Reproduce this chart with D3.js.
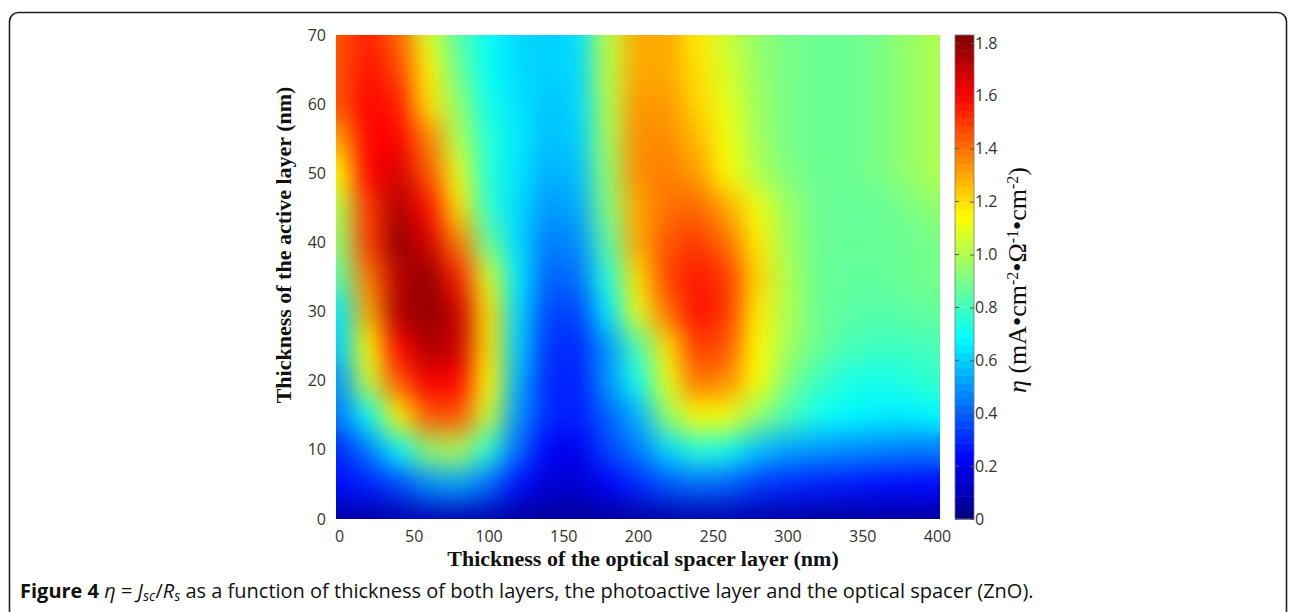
<!DOCTYPE html>
<html>
<head>
<meta charset="utf-8">
<script src="https://cdn.jsdelivr.net/npm/d3@7"></script>
<style>
  body { margin: 0; background: #fff; }
</style>
</head>
<body>
<div id="canvas"></div>
<script>
// grid: spacer thickness (nm) across, active layer (nm) up
const spacer = [0, 20, 40, 60, 80, 100, 120, 140, 160, 180, 200, 220, 240, 260, 280, 300, 320, 340, 360, 380, 400];
const active = [0, 5, 10, 15, 20, 25, 30, 35, 40, 45, 50, 55, 60, 65, 70];

// eta values, one row per active thickness (bottom row first)
const eta0  = [0.06,0.07,0.08,0.09,0.09,0.08,0.06,0.05,0.05,0.05,0.06,0.07,0.08,0.08,0.07,0.07,0.06,0.06,0.06,0.06,0.06];
const eta5  = [0.25,0.28,0.35,0.48,0.52,0.42,0.25,0.15,0.14,0.22,0.30,0.38,0.42,0.40,0.33,0.30,0.28,0.27,0.25,0.24,0.24];
const eta10 = [0.30,0.45,0.68,0.95,1.00,0.75,0.42,0.22,0.20,0.35,0.45,0.62,0.75,0.72,0.58,0.52,0.50,0.48,0.47,0.45,0.45];
const eta15 = [0.45,0.70,1.15,1.45,1.45,1.05,0.50,0.30,0.28,0.40,0.55,0.95,1.15,1.12,0.95,0.82,0.72,0.68,0.66,0.66,0.68];
const eta20 = [0.50,1.05,1.45,1.62,1.60,1.15,0.55,0.30,0.28,0.50,0.72,1.10,1.40,1.35,1.15,0.92,0.80,0.74,0.72,0.74,0.78];
const eta25 = [0.60,1.15,1.60,1.75,1.70,1.20,0.60,0.32,0.30,0.50,0.82,1.20,1.50,1.45,1.15,0.98,0.88,0.82,0.80,0.80,0.82];
const eta30 = [0.65,1.30,1.75,1.80,1.70,1.20,0.62,0.35,0.35,0.65,1.10,1.40,1.58,1.50,1.18,1.00,0.88,0.85,0.84,0.85,0.87];
const eta35 = [0.85,1.38,1.72,1.80,1.55,1.08,0.65,0.40,0.43,0.75,1.20,1.48,1.56,1.50,1.22,1.00,0.88,0.86,0.86,0.88,0.90];
const eta40 = [0.95,1.50,1.80,1.68,1.38,0.88,0.62,0.45,0.48,0.85,1.30,1.45,1.50,1.40,1.18,0.98,0.88,0.87,0.87,0.88,0.90];
const eta45 = [1.00,1.50,1.75,1.58,1.20,0.78,0.62,0.50,0.53,0.92,1.30,1.40,1.42,1.30,1.12,0.97,0.88,0.87,0.87,0.90,0.95];
const eta50 = [1.15,1.60,1.68,1.45,1.10,0.75,0.64,0.54,0.57,0.95,1.35,1.38,1.32,1.15,1.00,0.92,0.88,0.88,0.90,0.95,1.00];
const eta55 = [1.30,1.60,1.60,1.37,1.00,0.76,0.65,0.57,0.60,0.98,1.35,1.35,1.27,1.12,0.98,0.90,0.88,0.88,0.90,0.95,1.00];
const eta60 = [1.45,1.60,1.55,1.20,0.95,0.72,0.64,0.58,0.61,1.00,1.33,1.33,1.22,1.10,0.97,0.90,0.88,0.88,0.90,0.95,1.00];
const eta65 = [1.45,1.57,1.48,1.17,0.88,0.70,0.62,0.60,0.62,1.02,1.30,1.30,1.20,1.07,0.96,0.90,0.88,0.88,0.90,0.95,1.00];
const eta70 = [1.45,1.55,1.42,1.08,0.85,0.70,0.62,0.60,0.63,1.02,1.30,1.30,1.18,1.05,0.95,0.90,0.88,0.88,0.90,0.95,1.00];
const etaRows = [eta0, eta5, eta10, eta15, eta20, eta25, eta30, eta35, eta40, eta45, eta50, eta55, eta60, eta65, eta70];

const xTicks = [0, 50, 100, 150, 200, 250, 300, 350, 400];
const yTicks = [0, 10, 20, 30, 40, 50, 60, 70];
const cTicks = [0, 0.2, 0.4, 0.6, 0.8, 1.0, 1.2, 1.4, 1.6, 1.8];
const etaMax = 1.83;

const width = 1290, height = 612;
// plot box
const plotL = 336, plotR = 940, plotT = 35, plotB = 519;
// colour bar box
const cbL = 955, cbR = 974;

const svg = d3.select("#canvas").append("svg")
  .attr("width", width).attr("height", height);

// matlab style jet
const jet = t => {
  const c = v => Math.round(255 * Math.max(0, Math.min(1, v)));
  return `rgb(${c(1.5 - Math.abs(4 * t - 3))},${c(1.5 - Math.abs(4 * t - 2))},${c(1.5 - Math.abs(4 * t - 1))})`;
};
const color = d3.scaleSequential(jet).domain([0, etaMax]);

const x = d3.scaleLinear().domain([0, 400]).range([339, 937]);
const y = d3.scaleLinear().domain([0, 70]).range([plotB, plotT]);
const cy = d3.scaleLinear().domain([0, etaMax]).range([plotB, plotT]);

// outer rounded frame
svg.append("rect")
  .attr("x", 9.5).attr("y", 12.5)
  .attr("width", 1277).attr("height", 660)
  .attr("rx", 9)
  .attr("fill", "none").attr("stroke", "#222").attr("stroke-width", 1.6);

const defs = svg.append("defs");
defs.append("clipPath").attr("id", "plotClip")
  .append("rect")
  .attr("x", plotL).attr("y", plotT)
  .attr("width", plotR - plotL).attr("height", plotB - plotT);

const blur = defs.append("filter").attr("id", "smooth")
  .attr("color-interpolation-filters", "sRGB")
  .attr("x", "-0.1").attr("y", "-0.1").attr("width", "1.2").attr("height", "1.2");
blur.append("feGaussianBlur").attr("stdDeviation", "12 14");

const cells = [];
etaRows.forEach((row, j) => row.forEach((v, i) => cells.push({ s: spacer[i], a: active[j], v: v })));
const ds = (spacer[1] - spacer[0]) / 2;
const da = (active[1] - active[0]) / 2;

// sharp cells underneath so the clipped edges stay opaque, blurred copy on top
const heat = svg.append("g").attr("clip-path", "url(#plotClip)");
["base", "smooth"].forEach(layer => {
  const g = heat.append("g");
  if (layer === "smooth") g.attr("filter", "url(#smooth)");
  g.selectAll("rect").data(cells).join("rect")
    .attr("x", d => x(d.s - ds) - 0.5)
    .attr("y", d => y(d.a + da) - 0.5)
    .attr("width", d => x(d.s + ds) - x(d.s - ds) + 1)
    .attr("height", d => y(d.a - da) - y(d.a + da) + 1)
    .attr("fill", d => color(d.v));
});

// axes: labels only, no lines
const tickFont = "'Open Sans', 'Noto Sans', sans-serif";

const xAxis = svg.append("g")
  .attr("transform", `translate(0,${plotB})`)
  .call(d3.axisBottom(x).tickValues(xTicks).tickSize(0).tickPadding(12));
const yAxis = svg.append("g")
  .attr("transform", `translate(${plotL},0)`)
  .call(d3.axisLeft(y).tickValues(yTicks).tickSize(0).tickPadding(10));
[xAxis, yAxis].forEach(a => {
  a.select(".domain").remove();
  a.selectAll("text").attr("font-family", tickFont).attr("font-size", 16).attr("fill", "#333");
});

// colour bar, 64 steps like the matlab map
const steps = d3.range(64);
svg.append("g").selectAll("rect").data(steps).join("rect")
  .attr("x", cbL)
  .attr("y", i => cy((i + 1) * etaMax / 64))
  .attr("width", cbR - cbL)
  .attr("height", i => cy(i * etaMax / 64) - cy((i + 1) * etaMax / 64) + 0.5)
  .attr("fill", i => jet((i + 0.5) / 64));
svg.append("rect")
  .attr("x", cbL).attr("y", plotT)
  .attr("width", cbR - cbL).attr("height", plotB - plotT)
  .attr("fill", "none").attr("stroke", "#777").attr("stroke-width", 0.8);

const cAxis = svg.append("g")
  .attr("transform", `translate(${cbR},0)`)
  .call(d3.axisRight(cy).tickValues(cTicks).tickSizeInner(-4).tickSizeOuter(0).tickPadding(1)
    .tickFormat(d => d === 0 ? "0" : d.toFixed(1)));
cAxis.select(".domain").remove();
cAxis.selectAll("line").attr("stroke", "#555");
cAxis.selectAll("text").attr("font-family", tickFont).attr("font-size", 16).attr("fill", "#333");
svg.append("g").selectAll("line").data(cTicks).join("line")
  .attr("x1", cbL).attr("x2", cbL + 4)
  .attr("y1", d => cy(d)).attr("y2", d => cy(d))
  .attr("stroke", "#555");

// axis titles
const serif = "'Liberation Serif', 'Times New Roman', serif";
svg.append("text")
  .attr("x", 643).attr("y", 566)
  .attr("text-anchor", "middle")
  .attr("font-family", serif).attr("font-weight", "bold").attr("font-size", 22)
  .attr("fill", "#111")
  .text("Thickness of the optical spacer layer (nm)");

svg.append("text")
  .attr("transform", "translate(291,245) rotate(-90)")
  .attr("text-anchor", "middle")
  .attr("font-family", serif).attr("font-weight", "bold").attr("font-size", 22)
  .attr("fill", "#111")
  .text("Thickness of the active layer (nm)");

const cLabel = svg.append("text")
  .attr("transform", "translate(1026,280) rotate(-90)")
  .attr("text-anchor", "middle")
  .attr("font-family", serif).attr("font-size", 26)
  .attr("fill", "#111");
const parts = [
  ["η", "italic"], [" (mA•cm", ""], ["-2", "sup"], ["•Ω", ""], ["-1", "sup"],
  ["•cm", ""], ["-2", "sup"], [")", ""]
];
parts.forEach(([t, k]) => {
  const sp = cLabel.append("tspan").text(t);
  if (k === "italic") sp.attr("font-style", "italic");
  if (k === "sup") sp.attr("font-size", 16).attr("baseline-shift", "8");
});

// caption
const cap = svg.append("text")
  .attr("x", 20).attr("y", 598)
  .attr("font-family", "'Open Sans', 'Noto Sans', sans-serif")
  .attr("font-size", 20).attr("fill", "#111");
cap.append("tspan").attr("font-weight", "bold").text("Figure 4 ");
cap.append("tspan").attr("font-style", "italic").text("η");
cap.append("tspan").text(" = ");
cap.append("tspan").attr("font-style", "italic").text("J");
cap.append("tspan").attr("font-style", "italic").attr("font-size", 14).attr("baseline-shift", "-3").text("sc");
cap.append("tspan").text("/");
cap.append("tspan").attr("font-style", "italic").text("R");
cap.append("tspan").attr("font-style", "italic").attr("font-size", 14).attr("baseline-shift", "-3").text("s");
cap.append("tspan").text(" as a function of thickness of both layers, the photoactive layer and the optical spacer (ZnO).");
</script>
</body>
</html>
